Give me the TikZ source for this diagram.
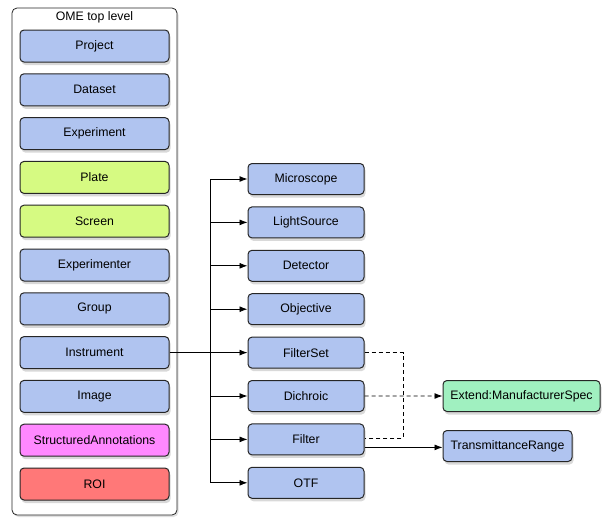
\documentclass[tikz,border=0pt]{standalone}
\usepackage{fontspec}
\setmainfont{Liberation Sans}
\usepackage{tikz}
\usetikzlibrary{positioning}
\usetikzlibrary{arrows.meta}
\usetikzlibrary{shadows}
\usetikzlibrary{fit}
\definecolor{omeblue}{RGB}{176,196,240}
\definecolor{omelime}{RGB}{214,250,130}
\definecolor{omepink}{RGB}{255,136,255}
\definecolor{omered}{RGB}{255,120,120}
\definecolor{omemint}{RGB}{160,240,192}
\tikzset {
  % every box of the model
  box/.style = {draw=black!85, line width=1pt, rounded corners=4pt,
    font=\fontsize{12.3}{14}\selectfont, inner sep=0pt,
    drop shadow={shadow xshift=1.5pt, shadow yshift=-3pt, opacity=0.3}},
  % left column (top level)
  toplevel/.style={box, fill=omeblue, minimum width=149pt, minimum height=32pt},
  % right column (instrument parts)
  part/.style={box, fill=omeblue, minimum width=116pt, minimum height=31pt},
  lime/.style={fill=omelime},
  pink/.style={fill=omepink},
  red/.style={fill=omered},
  % links
  link/.style={-{Latex[length=8pt,width=6pt]}, line width=0.9pt},
  extlink/.style={link, dashed, dash pattern=on 4pt off 3pt},
}

\begin{document}
\begin{tikzpicture}[x=1pt, y=1pt, node distance=10.8pt]
  \useasboundingbox (0,0) rectangle (612,-525);

  \node[draw=black!85, line width=0.8pt, fill=white, rounded corners=5pt, inner sep=0pt,
        drop shadow={shadow xshift=1.5pt, shadow yshift=-2pt, opacity=0.25},
        fit={(12,-8) (177,-515)}] (top) {};
  \node[font=\fontsize{12.3}{14}\selectfont] (title) at (94.5,-17) {OME top level};

  % top level column
  \node[toplevel] (project) at (94.5,-46) {Project};
  \node[toplevel] (dataset) [below=of project] {Dataset};
  \node[toplevel] (experiment) [below=of dataset] {Experiment};
  \node[toplevel, lime] (plate) [below=of experiment] {Plate};
  \node[toplevel, lime] (screen) [below=of plate] {Screen};
  \node[toplevel] (experimenter) [below=of screen] {Experimenter};
  \node[toplevel] (group) [below=of experimenter] {Group};
  \node[toplevel] (instrument) [below=of group] {Instrument};
  \node[toplevel] (image) [below=of instrument] {Image};
  \node[toplevel, pink] (annotations) [below=of image] {StructuredAnnotations};
  \node[toplevel, red] (roi) [below=of annotations] {ROI};

  % instrument parts
  \node[part] (microscope) at (306,-179) {Microscope};
  \node[part] (lightsource) [below=11.4pt of microscope] {LightSource};
  \node[part] (detector) [below=11.4pt of lightsource] {Detector};
  \node[part] (objective) [below=11.4pt of detector] {Objective};
  \node[part] (filterset) [below=11.4pt of objective] {FilterSet};
  \node[part] (dichroic) [below=11.4pt of filterset] {Dichroic};
  \node[part] (filter) [below=11.4pt of dichroic] {Filter};
  \node[part] (otf) [below=11.4pt of filter] {OTF};

  \node[box, fill=omemint, minimum width=157pt, minimum height=31pt] (spec) at (521.5,-396) {Extend:ManufacturerSpec};
  \node[box, fill=omeblue, minimum width=129pt, minimum height=31pt] (range) at (507.5,-446) {TransmittanceRange};

  \coordinate (trunk) at (210,0);
  \coordinate (ext) at (403,0);
  \coordinate (filterin) at ([yshift=1pt]filter.east);
  \coordinate (filterout) at ([yshift=-8pt]filter.east);

  \draw[line width=0.9pt] (instrument.east) -- (instrument.east -| trunk);
  \draw[line width=0.9pt] (trunk |- microscope) -- (trunk |- otf);
  \foreach \n in {microscope, lightsource, detector, objective, filterset, dichroic, filter, otf}
    \draw[link] (trunk |- \n) -- (\n);

  \draw[extlink] (dichroic) -- (spec);
  \draw[extlink, -] (filterset.east) -- (ext |- filterset) -- (ext |- filterin) -- (filterin);
  \draw[link] (filterout) -- (range.west |- filterout);
\end{tikzpicture}
\end{document}
